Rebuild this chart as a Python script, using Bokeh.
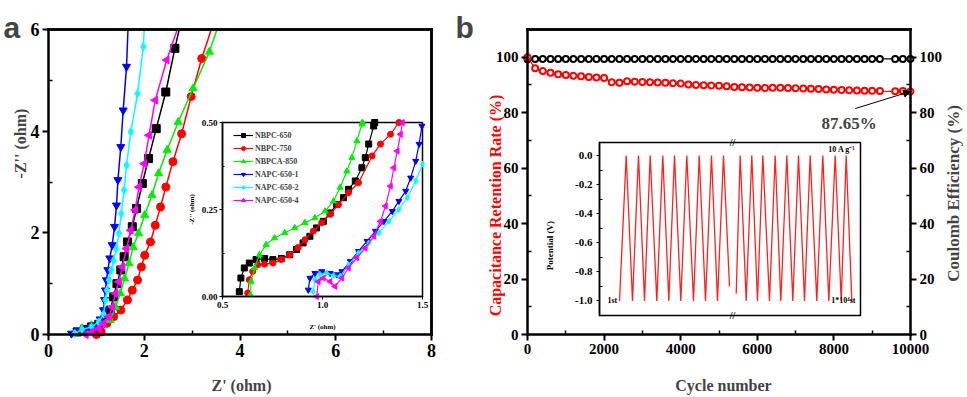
import math
from bokeh.plotting import figure
from bokeh.layouts import row
from bokeh.models import (Range1d, LinearAxis, FixedTicker, Label, Legend, LegendItem,
                          Arrow, NormalHead)
from bokeh.core.properties import value
from bokeh.embed import file_html
from bokeh.resources import INLINE

SERIF = "Liberation Serif"
SANS = "Liberation Sans"

# ===================== DATA: panel a (Nyquist plots) =====================
A_XTICKS = [0, 2, 4, 6, 8]
A_XMINOR = [1, 3, 5, 7]
A_YTICKS = [0, 2, 4, 6]
A_YMINOR = [1, 3, 5]
A_XLABELS = ["0", "2", "4", "6", "8"]
A_YLABELS = ["0", "2", "4", "6"]

SAMPLES = ["NBPC-650", "NBPC-750", "NBPCA-850", "NAPC-650-1", "NAPC-650-2", "NAPC-650-4"]

# last point of each curve = where it leaves the top of the frame
NBPC650_X = [0.60, 0.75, 0.90, 1.05, 1.18, 1.29, 1.36, 1.43, 1.51, 1.58, 1.65, 1.75, 1.84, 1.96, 2.09, 2.25, 2.45, 2.64, 2.73]
NBPC650_Y = [0.05, 0.10, 0.15, 0.20, 0.30, 0.48, 0.74, 1.00, 1.27, 1.53, 1.82, 2.12, 2.48, 2.97, 3.46, 4.05, 4.77, 5.63, 6.00]
NBPC750_X = [1.00, 1.10, 1.22, 1.36, 1.51, 1.65, 1.75, 1.86, 1.94, 2.01, 2.13, 2.23, 2.34, 2.45, 2.60, 2.78, 2.98, 3.20, 3.40]
NBPC750_Y = [0.00, 0.05, 0.22, 0.35, 0.48, 0.68, 0.87, 1.07, 1.33, 1.56, 1.82, 2.15, 2.51, 2.90, 3.40, 3.95, 4.68, 5.43, 6.00]
NBPCA850_X = [0.55, 0.70, 0.90, 1.10, 1.29, 1.40, 1.50, 1.59, 1.68, 1.77, 1.88, 2.01, 2.16, 2.30, 2.48, 2.71, 3.02, 3.36, 3.52]
NBPCA850_Y = [0.03, 0.12, 0.18, 0.22, 0.28, 0.54, 0.81, 1.10, 1.40, 1.72, 1.99, 2.35, 2.74, 3.17, 3.63, 4.18, 4.84, 5.56, 6.00]
NAPC1_X = [0.48, 0.60, 0.80, 0.95, 1.08, 1.15, 1.17, 1.19, 1.21, 1.24, 1.28, 1.33, 1.38, 1.42, 1.45, 1.51, 1.56, 1.63, 1.66]
NAPC1_Y = [0.02, 0.08, 0.12, 0.18, 0.30, 0.48, 0.68, 0.87, 1.07, 1.27, 1.50, 1.76, 2.12, 2.54, 3.04, 3.69, 4.41, 5.27, 6.00]
NAPC2_X = [0.55, 0.70, 0.90, 1.05, 1.15, 1.19, 1.22, 1.26, 1.31, 1.36, 1.42, 1.47, 1.52, 1.58, 1.63, 1.72, 1.86, 1.98, 2.00]
NAPC2_Y = [0.02, 0.10, 0.15, 0.25, 0.40, 0.68, 0.87, 1.07, 1.27, 1.46, 1.69, 1.99, 2.38, 2.84, 3.33, 3.99, 4.74, 5.66, 6.00]
NAPC4_X = [0.78, 0.90, 1.05, 1.15, 1.26, 1.33, 1.40, 1.47, 1.54, 1.63, 1.72, 1.81, 1.89, 2.00, 2.10, 2.23, 2.47, 2.69]
NAPC4_Y = [0.00, 0.05, 0.12, 0.22, 0.35, 0.54, 0.81, 1.04, 1.33, 1.69, 2.05, 2.45, 2.90, 3.36, 3.92, 4.61, 5.40, 6.00]

# inset of panel a (high-frequency region)
IA_XTICKS = [0.5, 1.0, 1.5]
IA_XLABELS = ["0.5", "1.0", "1.5"]
IA_YTICKS = [0.0, 0.25, 0.5]
IA_YMINOR = [0.125, 0.375]
IA_YLABELS = ["0.00", "0.25", "0.50"]

IA_NBPC650_X = [0.584, 0.592, 0.609, 0.634, 0.668, 0.710, 0.752, 0.794, 0.836, 0.870, 0.903, 0.937, 0.970, 1.004, 1.038, 1.071, 1.105, 1.130, 1.164, 1.197, 1.214, 1.231, 1.256, 1.261]
IA_NBPC650_Y = [0.014, 0.053, 0.082, 0.096, 0.106, 0.109, 0.106, 0.109, 0.120, 0.135, 0.154, 0.173, 0.197, 0.216, 0.240, 0.264, 0.284, 0.308, 0.332, 0.370, 0.399, 0.438, 0.490, 0.500]
IA_NBPC750_X = [0.626, 0.634, 0.651, 0.676, 0.710, 0.752, 0.794, 0.836, 0.878, 0.912, 0.954, 0.996, 1.038, 1.080, 1.130, 1.180, 1.248, 1.290, 1.340, 1.382]
IA_NBPC750_Y = [0.010, 0.048, 0.072, 0.091, 0.093, 0.096, 0.106, 0.120, 0.141, 0.163, 0.188, 0.212, 0.236, 0.264, 0.298, 0.327, 0.404, 0.438, 0.466, 0.500]
IA_NBPCA850_X = [0.640, 0.643, 0.660, 0.685, 0.718, 0.760, 0.811, 0.861, 0.912, 0.962, 1.013, 1.055, 1.088, 1.122, 1.147, 1.172, 1.197, 1.200]
IA_NBPCA850_Y = [0.005, 0.043, 0.082, 0.120, 0.149, 0.168, 0.183, 0.197, 0.212, 0.226, 0.245, 0.274, 0.313, 0.360, 0.399, 0.447, 0.495, 0.500]
IA_NAPC1_X = [0.929, 0.937, 0.962, 0.996, 1.038, 1.071, 1.097, 1.139, 1.180, 1.223, 1.265, 1.307, 1.349, 1.382, 1.416, 1.441, 1.466, 1.483, 1.497]
IA_NAPC1_Y = [0.019, 0.053, 0.067, 0.072, 0.067, 0.063, 0.072, 0.101, 0.130, 0.159, 0.188, 0.216, 0.245, 0.274, 0.303, 0.341, 0.389, 0.438, 0.490]
IA_NAPC2_X = [0.954, 0.962, 0.987, 1.021, 1.055, 1.088, 1.130, 1.180, 1.231, 1.282, 1.332, 1.382, 1.424, 1.466, 1.500]
IA_NAPC2_Y = [0.014, 0.048, 0.064, 0.067, 0.060, 0.058, 0.091, 0.125, 0.154, 0.183, 0.216, 0.250, 0.284, 0.332, 0.380]
IA_NAPC4_X = [0.971, 0.979, 1.004, 1.038, 1.063, 1.097, 1.130, 1.172, 1.214, 1.256, 1.290, 1.315, 1.340, 1.357, 1.374, 1.390, 1.400]
IA_NAPC4_Y = [0.000, 0.043, 0.053, 0.043, 0.029, 0.053, 0.082, 0.111, 0.139, 0.173, 0.216, 0.260, 0.317, 0.370, 0.418, 0.466, 0.500]

# ===================== DATA: panel b (cycling stability) =====================
B_XTICKS = [0, 2000, 4000, 6000, 8000, 10000]
B_XMINOR = [1000, 3000, 5000, 7000, 9000]
B_XLABELS = ["0", "2000", "4000", "6000", "8000", "10000"]
B_YTICKS = [0, 20, 40, 60, 80, 100]
B_YMINOR = [10, 30, 50, 70, 90]
B_YLABELS = ["0", "20", "40", "60", "80", "100"]
B_YMAX = 110

CYCLES = [0, 200, 400, 600, 800, 1000, 1200, 1400, 1600, 1800, 2000, 2200, 2400, 2600, 2800,
          3000, 3200, 3400, 3600, 3800, 4000, 4200, 4400, 4600, 4800, 5000, 5200, 5400, 5600,
          5800, 6000, 6200, 6400, 6600, 6800, 7000, 7200, 7400, 7600, 7800, 8000, 8200, 8400,
          8600, 8800, 9000, 9200, 9600, 9800, 10000]
RETENTION = [100.0, 96.0, 95.0, 94.4, 93.9, 93.6, 93.3, 93.1, 92.9, 92.7, 92.5, 91.0, 90.8, 91.3, 91.2,
             91.1, 91.0, 90.9, 90.8, 90.6, 90.5, 90.2, 90.0, 89.9, 89.8, 89.7, 89.5, 89.3, 89.2,
             89.1, 89.0, 88.9, 89.0, 89.0, 88.9, 88.8, 88.7, 88.6, 88.5, 88.4, 88.3, 88.2, 88.1,
             88.0, 87.9, 87.9, 87.8, 87.7, 87.8, 87.65]
COULOMB = [99.3, 99.4, 99.4, 99.4, 99.4, 99.4, 99.4, 99.4, 99.4, 99.4, 99.4, 99.4, 99.4, 99.4, 99.4,
           99.4, 99.4, 99.4, 99.4, 99.4, 99.4, 99.4, 99.4, 99.4, 99.4, 99.4, 99.4, 99.4, 99.4,
           99.4, 99.4, 99.4, 99.4, 99.4, 99.4, 99.4, 99.4, 99.4, 99.4, 99.4, 99.4, 99.4, 99.4,
           99.4, 99.4, 99.4, 99.4, 99.4, 99.4, 99.4]

# inset of panel b (galvanostatic charge/discharge at 10 A/g)
IB_TLIM = [0, 261]
IB_VLIM = [-1.1, 0.09]
IB_YTICKS = [-1.0, -0.8, -0.6, -0.4, -0.2, 0.0]
IB_YMINOR = [-0.9, -0.7, -0.5, -0.3, -0.1]
IB_YLABELS = ["-1.0", "-0.8", "-0.6", "-0.4", "-0.2", "0.0"]
IB_BREAK_T = 133
IB_T1 = [20, 26.7, 33, 39, 45, 50.7, 57.3, 63.3, 69.3, 75, 81.3, 87.3, 94, 99.7, 106, 112, 118, 124, 130]
IB_V1 = [-1.0, 0.0, -1.0, 0.0, -1.0, 0.0, -1.0, 0.0, -1.0, 0.0, -1.0, 0.0, -1.0, 0.0, -1.0, 0.0, -1.0, 0.0, -0.9]
IB_T2 = [136.7, 140.7, 146.7, 152.3, 158, 163.3, 170, 175.7, 181.3, 187.3, 193.3, 199, 205, 210.7,
         217.3, 223.3, 229.3, 235.7, 241.7, 246.7, 252.3]
IB_V2 = [-0.95, 0.0, -1.0, 0.0, -1.0, 0.0, -1.0, 0.0, -1.0, 0.0, -1.0, 0.0, -1.0, 0.0,
         -1.0, 0.0, -1.0, 0.0, -1.0, 0.0, -1.0]

# ===================== STYLE / LAYOUT =====================
COLORS = ["#000000", "#ff0000", "#00ee00", "#0000ff", "#00ffff", "#ff00ff"]
MARKERS = ["square", "circle", "triangle", "inverted_triangle", "diamond", "triangle"]
ANGLES = [0, 0, 0, 0, 0, math.pi / 2]
H = 396          # figure height (page is drawn from the window's top-left corner)
WA, WB = 455, 511
OXB = WA         # page x where panel b's canvas starts
EDGE = 2.5       # frame line width, px


def xr_px(lo, hi, px_lo, px_hi, width):
    """x range whose [lo, hi] lands on canvas pixels [px_lo, px_hi] (from left)."""
    s = (hi - lo) / (px_hi - px_lo)
    start = lo - px_lo * s
    return Range1d(start, start + width * s)


def yr_px(lo, hi, top_lo, top_hi):
    """y range whose lo/hi land on page rows top_lo/top_hi (measured from the top)."""
    b_lo, b_hi = H - top_lo, H - top_hi
    s = (hi - lo) / (b_hi - b_lo)
    start = lo - b_lo * s
    return Range1d(start, start + H * s)


def base_fig(width, xr, yr):
    p = figure(width=width, height=H, x_range=xr, y_range=yr,
               output_backend="svg", toolbar_location=None,
               min_border=0, min_border_left=0, min_border_right=0,
               min_border_top=0, min_border_bottom=0)
    p.title.visible = False
    p.xgrid.visible = False
    p.ygrid.visible = False
    p.outline_line_color = None
    p.background_fill_color = "white"
    p.border_fill_color = "white"
    return p


def style_axis(ax, fixed, bounds, ticks=(), minor=(), labels=(), size="15px",
               lw=EDGE, tout=6, min_in=4, min_out=0, standoff=3):
    ax.fixed_location = fixed
    ax.bounds = bounds
    ax.ticker = FixedTicker(ticks=list(ticks), minor_ticks=list(minor))
    ax.major_label_overrides = {t: l for t, l in zip(ticks, labels)}
    ax.axis_line_width = lw
    ax.axis_line_color = "black"
    ax.axis_line_cap = "square"
    ax.major_tick_line_width = max(1, lw - 0.5)
    ax.minor_tick_line_width = max(1, lw - 1)
    ax.major_tick_in = 0
    ax.major_tick_out = tout
    ax.minor_tick_in = min_in
    ax.minor_tick_out = min_out
    ax.major_label_text_font = SERIF
    ax.major_label_text_font_style = "bold"
    ax.major_label_text_font_size = size
    ax.major_label_text_color = "black"
    ax.major_label_standoff = standoff
    ax.axis_label = None
    return ax


def new_axis(p, side, rn=None, **kw):
    ax = LinearAxis(**(rn or {}))
    style_axis(ax, **kw)
    p.add_layout(ax, side)
    return ax


def edge(p, xa, ya, xb, yb):
    """one straight frame edge, drawn as a head-less arrow annotation in data units
    (plus the same segment as a polyline glyph underneath)."""
    p.add_layout(Arrow(start=None, end=None, x_start=float(xa), y_start=float(ya),
                       x_end=float(xb), y_end=float(yb), line_color="black",
                       line_width=EDGE, line_cap="square"))
    p.line(x=[float(xa), float(xb)], y=[float(ya), float(yb)], line_color="black",
           line_width=EDGE, line_cap="square")


def txt(p, text, x, top, size, **kw):
    """Label at canvas x (from left) and page row `top` (from the top)."""
    opts = dict(x=x, y=H - top, text=text, x_units="screen", y_units="screen",
                text_font=SERIF, text_font_size=size, text_font_style="bold",
                text_align="center", text_baseline="middle")
    opts.update(kw)
    p.add_layout(Label(**opts))


# ===================== PANEL a =====================
x0a, x1a, y0a, y1a = A_XTICKS[0], A_XTICKS[-1], A_YTICKS[0], A_YTICKS[-1]
pa = base_fig(WA, xr_px(x0a, x1a, 48, 431, WA), yr_px(y0a, y1a, 334, 29))
style_axis(pa.xaxis[0], y0a, (x0a, x1a), A_XTICKS, A_XMINOR, A_XLABELS, "18px")
style_axis(pa.yaxis[0], x0a, (y0a, y1a), A_YTICKS, A_YMINOR, A_YLABELS, "18px")
pa.extra_x_ranges = {"iax": xr_px(IA_XTICKS[0], IA_XTICKS[-1], 222, 422, WA)}
pa.extra_y_ranges = {"iay": yr_px(IA_YTICKS[0], IA_YTICKS[-1], 296, 122)}

main_series = [(NBPC650_X, NBPC650_Y), (NBPC750_X, NBPC750_Y), (NBPCA850_X, NBPCA850_Y),
               (NAPC1_X, NAPC1_Y), (NAPC2_X, NAPC2_Y), (NAPC4_X, NAPC4_Y)]
for (xs, ys), c, m, a in zip(main_series, COLORS, MARKERS, ANGLES):
    pa.line(xs, ys, line_color=c, line_width=1.5)
    # the final point only marks where the trace leaves the frame: no marker there
    pa.scatter(xs[:-1], ys[:-1], marker=m, angle=a, size=8, fill_color=c, line_color=c)
edge(pa, x0a, y1a, x1a, y1a)     # top edge of the frame
edge(pa, x1a, y0a, x1a, y1a)     # right edge of the frame

# inset a
RA = dict(x_range_name="iax", y_range_name="iay")
pa.quad(left=[IA_XTICKS[0]], right=[IA_XTICKS[-1]], bottom=[IA_YTICKS[0]], top=[IA_YTICKS[-1]],
        fill_color="white", line_color="black", line_width=1.5, **RA)
new_axis(pa, "below", rn=RA, fixed=IA_YTICKS[0], bounds=(IA_XTICKS[0], IA_XTICKS[-1]),
         ticks=IA_XTICKS, labels=IA_XLABELS, size="9px", lw=1.5, tout=3, min_in=0, standoff=2)
new_axis(pa, "left", rn=RA, fixed=IA_XTICKS[0], bounds=(IA_YTICKS[0], IA_YTICKS[-1]),
         ticks=IA_YTICKS, minor=IA_YMINOR, labels=IA_YLABELS, size="9px", lw=1.5, tout=3,
         min_in=2, standoff=2)

inset_series = [(IA_NBPC650_X, IA_NBPC650_Y), (IA_NBPC750_X, IA_NBPC750_Y),
                (IA_NBPCA850_X, IA_NBPCA850_Y), (IA_NAPC1_X, IA_NAPC1_Y),
                (IA_NAPC2_X, IA_NAPC2_Y), (IA_NAPC4_X, IA_NAPC4_Y)]
items = []
for (xs, ys), c, m, a, name in zip(inset_series, COLORS, MARKERS, ANGLES, SAMPLES):
    lr = pa.line(xs, ys, line_color=c, line_width=1.2, **RA)
    sr = pa.scatter(xs, ys, marker=m, angle=a, size=6, fill_color=c, line_color=c, **RA)
    items.append(LegendItem(label=name, renderers=[lr, sr]))
leg = Legend(items=items, location=(233, H - 205), glyph_width=20, glyph_height=10,
             label_height=10, label_standoff=2, spacing=3, padding=0, margin=0,
             label_text_font=SERIF, label_text_font_size="8px", label_text_font_style="bold",
             border_line_alpha=0, background_fill_alpha=0)
pa.add_layout(leg)
pa.text(x=[(IA_XTICKS[0] + IA_XTICKS[-1]) / 2], y=[IA_YTICKS[0]], text=["Z' (ohm)"], y_offset=30,
        text_align="center", text_baseline="middle", text_font=value(SERIF),
        text_font_size=value("7px"), text_font_style="bold", **RA)
pa.text(x=[IA_XTICKS[0]], y=[(IA_YTICKS[0] + IA_YTICKS[-1]) / 2], text=["-Z'' (ohm)"], x_offset=-31,
        angle=math.pi / 2, text_align="center", text_baseline="middle", text_font=value(SERIF),
        text_font_size=value("7px"), text_font_style="bold", **RA)

txt(pa, "a", 3, 27, "30px", text_font=SANS, text_align="left", text_baseline="alphabetic")
txt(pa, "-Z'' (ohm)", 20, 143, "16px", angle=math.pi / 2)
txt(pa, "Z' (ohm)", 241, 385, "16px")

# ===================== PANEL b =====================
x0b, x1b = B_XTICKS[0], B_XTICKS[-1]
pb = base_fig(WB, xr_px(x0b, x1b, 527 - OXB, 910 - OXB, WB), yr_px(0, B_YMAX, 334, 29))
style_axis(pb.xaxis[0], 0, (x0b, x1b), B_XTICKS, B_XMINOR, B_XLABELS, "15px")
style_axis(pb.yaxis[0], x0b, (0, B_YMAX), B_YTICKS, B_YMINOR, B_YLABELS, "15px")
new_axis(pb, "right", fixed=x1b, bounds=(0, B_YMAX), ticks=B_YTICKS, minor=B_YMINOR,
         labels=B_YLABELS, size="15px")
pb.extra_x_ranges = {"ibx": xr_px(IB_TLIM[0], IB_TLIM[1], 599 - OXB, 860 - OXB, WB)}
pb.extra_y_ranges = {"iby": yr_px(IB_VLIM[0], IB_VLIM[1], 315, 142)}
edge(pb, x0b, B_YMAX, x1b, B_YMAX)   # top edge of the frame

pb.line(CYCLES, COULOMB, line_color="black", line_width=1.2)
pb.scatter(CYCLES, COULOMB, marker="circle", size=6, fill_color="white", line_color="black", line_width=2)
pb.line(CYCLES, RETENTION, line_color="red", line_width=1.2)
pb.scatter(CYCLES, RETENTION, marker="circle", size=6, fill_color="white", line_color="red", line_width=2)

pb.add_layout(Arrow(end=NormalHead(size=7, fill_color="black", line_color="black"),
                    x_start=8560, y_start=81.5, x_end=CYCLES[-1], y_end=RETENTION[-1],
                    line_color="black", line_width=1))
pb.add_layout(Label(x=8400, y=76, text=f"{RETENTION[-1]:.2f}%", text_font=SERIF,
                    text_font_size="17px", text_font_style="bold", text_align="center",
                    text_baseline="alphabetic"))

# inset b
RB = dict(x_range_name="ibx", y_range_name="iby")
pb.quad(left=[IB_TLIM[0]], right=[IB_TLIM[1]], bottom=[IB_VLIM[0]], top=[IB_VLIM[1]],
        fill_color="white", line_color="black", line_width=1.5, **RB)
new_axis(pb, "left", rn=RB, fixed=IB_TLIM[0], bounds=(IB_VLIM[0], IB_VLIM[1]),
         ticks=IB_YTICKS, minor=IB_YMINOR, labels=IB_YLABELS, size="11px", lw=1.5, tout=3,
         min_in=3, standoff=4)
pb.line(IB_T1, IB_V1, line_color="#ff2020", line_width=1.3, **RB)
pb.line(IB_T2, IB_V2, line_color="#ff2020", line_width=1.3, **RB)
pb.text(x=[IB_BREAK_T, IB_BREAK_T], y=[IB_VLIM[1], IB_VLIM[0]], text=["//", "//"],
        text_align="center", text_baseline="middle", text_font=value(SERIF),
        text_font_size=value("10px"), text_font_style="bold", **RB)
pb.text(x=[IB_TLIM[0], IB_TLIM[1], IB_TLIM[1]], y=[-1.0, -1.0, 0.04],
        text=["1st", "1*10\u2074st", "10 A g\u207b\u00b9"], x_offset=[8, -5, -5],
        text_align=["left", "right", "right"], text_baseline="middle", text_font=value(SERIF),
        text_font_size=value("8px"), text_font_style="bold", **RB)
pb.text(x=[IB_TLIM[0]], y=[-0.62], text=["Potential (V)"], x_offset=-50, angle=math.pi / 2,
        text_align="center", text_baseline="middle", text_font=value(SERIF),
        text_font_size=value("9px"), text_font_style="bold", **RB)

txt(pb, "b", 0, 27, "30px", text_font=SANS, text_align="left", text_baseline="alphabetic")
txt(pb, "Capacitance Retention Rate (%)", 495 - OXB, 205, "16px", angle=math.pi / 2, text_color="red")
txt(pb, "Cycle number", 723 - OXB, 385, "16px")
txt(pb, "Coulomb Efficiency (%)", 953 - OXB, 193, "17px", angle=math.pi / 2)

layout = row(pa, pb)
open("out.html", "w").write(file_html(layout, INLINE))
